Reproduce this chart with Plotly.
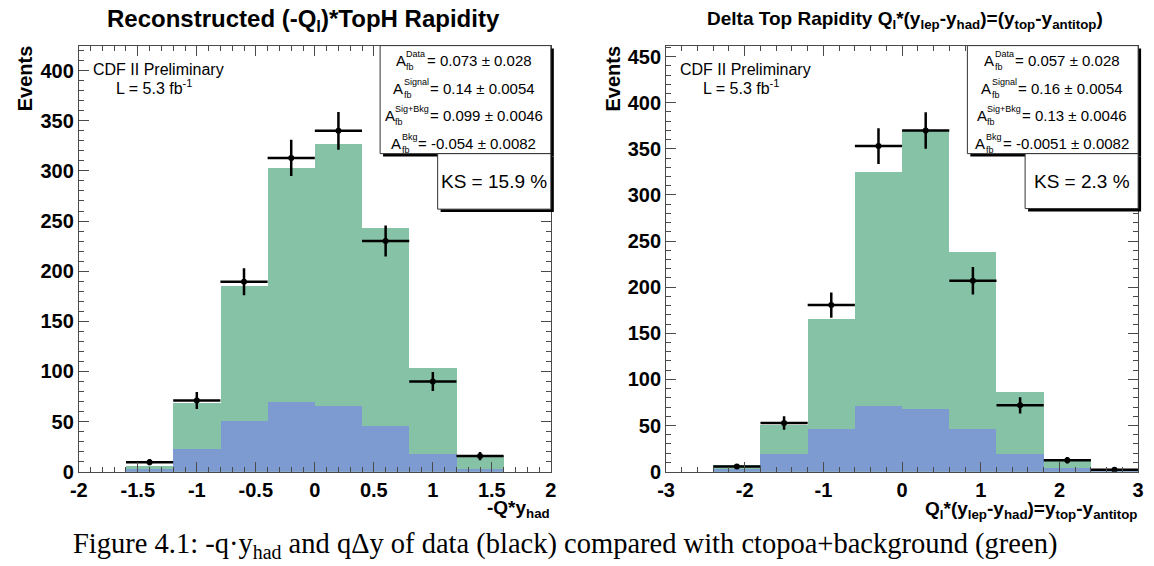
import plotly.graph_objects as go

W, H = 1154, 566

# ---------------- data ----------------
left_edges = [-2.0, -1.6, -1.2, -0.8, -0.4, 0.0, 0.4, 0.8, 1.2, 1.6, 2.0]
left_total = [0, 6, 68.6, 185.6, 303.5, 327.5, 243.5, 103.6, 15.7, 0]
left_bkg = [0, 3.5, 22.9, 51, 69.6, 66.3, 45.8, 18, 3.2, 0]
left_data = [None, 9.5, 71, 189.5, 313, 340, 230, 90, 15.5, None]
left_data_err = [None, 3.2, 8.5, 13.5, 18, 18.8, 15.5, 9.5, 4, None]

right_edges = [-3.0, -2.4, -1.8, -1.2, -0.6, 0.0, 0.6, 1.2, 1.8, 2.4, 3.0]
right_total = [0, 7.4, 50.6, 166.4, 325, 370, 238.2, 86.7, 14.5, 2]
right_bkg = [0, 2.8, 19.8, 46.4, 71.2, 68.3, 47.1, 19.8, 3.9, 1]
right_data = [None, 5.5, 52.8, 180.6, 353, 370, 207, 71.9, 12.4, 2]
right_data_err = [None, 2.3, 7.3, 13.8, 19.5, 19.8, 14.9, 8.8, 3.5, 1.4]

left_xticks = [-2, -1.5, -1, -0.5, 0, 0.5, 1, 1.5, 2]
left_xticklabels = ["-2", "-1.5", "-1", "-0.5", "0", "0.5", "1", "1.5", "2"]
right_xticks = [-3, -2, -1, 0, 1, 2, 3]
right_xticklabels = ["-3", "-2", "-1", "0", "1", "2", "3"]
left_yticks = [0, 50, 100, 150, 200, 250, 300, 350, 400]
right_yticks = [0, 50, 100, 150, 200, 250, 300, 350, 400, 450]

stat_names = ["Data", "Signal", "Sig+Bkg", "Bkg"]
left_stat_values = ["= 0.073 ± 0.028", "= 0.14 ± 0.0054", "= 0.099 ± 0.0046", "= -0.054 ± 0.0082"]
right_stat_values = ["= 0.057 ± 0.028", "= 0.16 ± 0.0054", "= 0.13 ± 0.0046", "= -0.0051 ± 0.0082"]
left_ks = "KS = 15.9 %"
right_ks = "KS = 2.3 %"

left_title = "Reconstructed (-Q<sub>l</sub>)*TopH Rapidity"
right_title = ("Delta Top Rapidity Q<sub>l</sub>*(y<sub>lep</sub>-y<sub>had</sub>)"
               "=(y<sub>top</sub>-y<sub>antitop</sub>)")
left_xlabel = "-Q*y<sub>had</sub>"
right_xlabel = ("Q<sub>l</sub>*(y<sub>lep</sub>-y<sub>had</sub>)=y<sub>top</sub>"
                "-y<sub>antitop</sub>")
caption = ("Figure 4.1: -q·y<sub>had</sub> and qΔy of data (black) compared with "
           "ctopoa+background (green)")

# ---------------- style ----------------
GREEN = "#86c2a5"
BLUE = "#7d9bd1"
FRAME = "#4a4a4a"
ROOTFONT = "Liberation Sans"

def px(x):
    return x / W

def py(y):
    return 1 - y / H

fig = go.Figure()

def add_panel(edges, total, bkg, data, err, xa, ya):
    centers = [(edges[i] + edges[i + 1]) / 2 for i in range(len(edges) - 1)]
    widths = [edges[i + 1] - edges[i] for i in range(len(edges) - 1)]
    fig.add_trace(go.Bar(x=centers, y=total, width=widths, marker=dict(color=GREEN, line=dict(width=0)),
                         xaxis=xa, yaxis=ya, hoverinfo="skip"))
    fig.add_trace(go.Bar(x=centers, y=bkg, width=widths, marker=dict(color=BLUE, line=dict(width=0)),
                         xaxis=xa, yaxis=ya, hoverinfo="skip"))
    dx = [c for c, d in zip(centers, data) if d is not None]
    dy = [d for d in data if d is not None]
    de = [e for e, d in zip(err, data) if d is not None]
    dw = [w / 2 for w, d in zip(widths, data) if d is not None]
    fig.add_trace(go.Scatter(x=dx, y=dy, mode="markers",
                             marker=dict(color="black", size=6),
                             error_y=dict(type="data", array=de, visible=True, thickness=2.5, width=0, color="black"),
                             error_x=dict(type="data", array=dw, visible=True, thickness=2.5, width=0, color="black"),
                             xaxis=xa, yaxis=ya, hoverinfo="skip"))

add_panel(left_edges, left_total, left_bkg, left_data, left_data_err, "x", "y")
add_panel(right_edges, right_total, right_bkg, right_data, right_data_err, "x2", "y2")

tickfont = dict(family=ROOTFONT, size=20, color="black", weight="bold")

def axis_style(**kw):
    d = dict(showline=True, linecolor=FRAME, linewidth=1, mirror="ticks", ticks="inside",
             ticklen=10, tickwidth=1, tickcolor=FRAME, showgrid=False, zeroline=False,
             tickfont=tickfont, fixedrange=True)
    d.update(kw)
    return d

def minor(dt):
    return dict(ticks="inside", ticklen=5, tickcolor=FRAME, tickmode="linear", tick0=0, dtick=dt)

y_dom = [py(481), py(46.5)]
fig.update_layout(
    width=W, height=H, margin=dict(l=0, r=0, t=0, b=0),
    paper_bgcolor="white", plot_bgcolor="white", showlegend=False,
    barmode="overlay", bargap=0,
    font=dict(family=ROOTFONT, color="black"),
    xaxis=axis_style(domain=[px(70.7), px(549)], anchor="y", range=[-2, 2],
                     tickmode="array", tickvals=left_xticks, ticktext=left_xticklabels, minor=minor(0.1)),
    yaxis=axis_style(domain=y_dom, anchor="x", range=[0, 425],
                     tickmode="array", tickvals=left_yticks, ticktext=[str(v) for v in left_yticks],
                     minor=minor(10)),
    xaxis2=axis_style(domain=[px(665.7), px(1144)], anchor="y2", range=[-3, 3],
                      tickmode="array", tickvals=right_xticks, ticktext=right_xticklabels, minor=minor(0.2)),
    yaxis2=axis_style(domain=y_dom, anchor="x2", range=[0, 462],
                      tickmode="array", tickvals=right_yticks, ticktext=[str(v) for v in right_yticks],
                      minor=minor(10)),
)

# ---------------- boxes ----------------
shapes = []
def box(x0, y0, x1, y1):
    shapes.append(dict(type="rect", xref="paper", yref="paper", x0=px(x0 + 3), x1=px(x1 + 3),
                       y0=py(y1 + 3), y1=py(y0 + 3), fillcolor="black", line=dict(width=0), layer="above"))
    shapes.append(dict(type="rect", xref="paper", yref="paper", x0=px(x0), x1=px(x1),
                       y0=py(y1), y1=py(y0), fillcolor="white", line=dict(color="#333", width=1), layer="above"))

box(376, 46.5, 549, 156.7)
box(434.3, 156.7, 549, 213.3)
box(971, 46.5, 1144, 156.7)
box(1029.5, 156.7, 1144, 212.7)
fig.update_layout(shapes=shapes)

ann = []
def text(x, y, s, size, xanchor="center", yanchor="middle", family=ROOTFONT, weight="normal", angle=0):
    ann.append(dict(xref="paper", yref="paper", x=px(x), y=py(y), text=s, showarrow=False,
                    xanchor=xanchor, yanchor=yanchor, textangle=angle,
                    font=dict(family=family, size=size, color="black", weight=weight), borderpad=0))

# approximate Helvetica/Arial advance widths (em) used to centre the stacked stat rows
MET = {'A': 0.667, '=': 0.584, ' ': 0.278, '.': 0.278, '±': 0.549, '-': 0.333, 'D': 0.722, 'a': 0.556,
       't': 0.278, 'S': 0.667, 'i': 0.222, 'g': 0.556, 'n': 0.556, 'l': 0.222, '+': 0.584, 'B': 0.667,
       'k': 0.5, 'f': 0.278, 'b': 0.556}
def tw(s, size):
    return sum(MET.get(c, 0.556) for c in s) * size

MAIN, SUP = 15, 9
def stats(cx, values):
    for i, (nm, val) in enumerate(zip(stat_names, values)):
        yc = 62 + 28 * i
        wA = tw("A", MAIN)
        ws = max(tw(nm, SUP), tw("fb", SUP))
        we = tw(val, MAIN)
        x0 = cx - (wA + ws + 2 + we) / 2
        text(x0, yc, "A", MAIN, xanchor="left")
        text(x0 + wA + 0.5, yc - 6.5, nm, SUP, xanchor="left")
        text(x0 + wA + 0.5, yc + 6.5, "fb", SUP, xanchor="left")
        text(x0 + wA + ws + 2, yc, val, MAIN, xanchor="left")

stats(459, left_stat_values)
stats(1055, right_stat_values)
text(491.7, 185, left_ks, 19)
text(1086.8, 185, right_ks, 19)

# CDF labels
text(84, 71, "CDF II Preliminary", 16, xanchor="left")
text(107, 89, "L = 5.3 fb<sup>-1</sup>", 16, xanchor="left")
text(679, 71, "CDF II Preliminary", 16, xanchor="left")
text(702, 89, "L = 5.3 fb<sup>-1</sup>", 16, xanchor="left")

# titles
text(298, 21, left_title, 24, weight="bold")
text(908, 20, right_title, 19, weight="bold")
text(549, 519, left_xlabel, 19, xanchor="right", weight="bold")
text(1144, 520, right_xlabel, 19, xanchor="right", weight="bold")
text(17, 80, "Events", 20, weight="bold", angle=-90)
text(612, 80, "Events", 20, weight="bold", angle=-90)

# caption
text(563, 556, caption, 28.5, family="Liberation Serif")

fig.update_layout(annotations=ann)
fig.write_html("out.html")
